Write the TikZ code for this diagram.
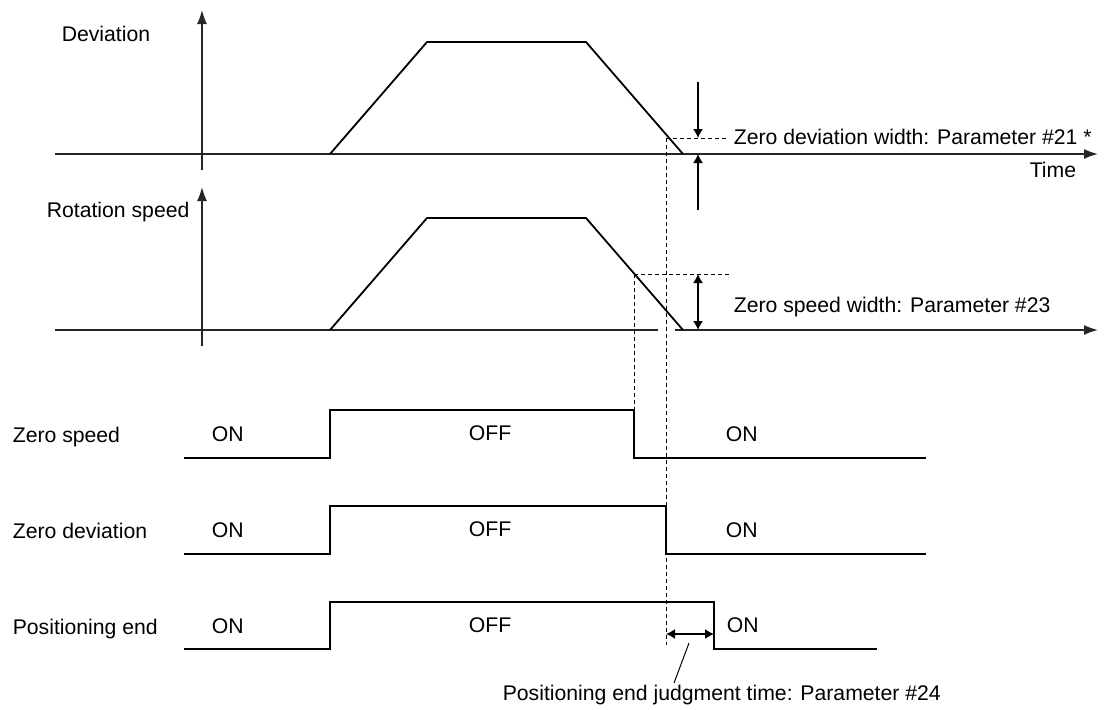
\documentclass[tikz,border=0pt]{standalone}
\usepackage{fontspec}
\setmainfont{Liberation Sans}
\usetikzlibrary{arrows.meta}

\begin{document}
\begin{tikzpicture}[x=0.5pt, y=-0.5pt, >={Latex[length=4.5pt,width=5pt]}, thick,
    font=\fontsize{10.6}{12}\selectfont,
    axis/.style={line width=0.8pt, black!85, -{Latex[length=7pt,width=5pt]}},
    curve/.style={line width=0.9pt},
    sig/.style={line width=0.7pt},
    guide/.style={line width=0.5pt, dash pattern=on 2pt off 1.5pt},
    lbl/.style={anchor=base west, inner sep=0pt}]
    \useasboundingbox (0,0) rectangle (1108,709);

    % Define Coordinates
    \coordinate (devTop) at (202,10);
    \coordinate (devBot) at (202,170);
    \coordinate (devL) at (55,154);
    \coordinate (devR) at (1098,154);
    \coordinate (rotTop) at (202,187);
    \coordinate (rotBot) at (202,346);
    \coordinate (rotL) at (55,330);
    \coordinate (rotR) at (1098,330);
    \coordinate (devMark) at (666,138);
    \coordinate (rotMark) at (634,274);

    % Draw Axes
    \draw[axis] (devBot) -- (devTop);
    \draw[axis] (devL) -- (devR);
    \draw[axis] (rotBot) -- (rotTop);
    \draw[line width=0.8pt, black!85] (rotL) -- (658,330);
    \draw[axis] (675,330) -- (rotR);

    % Draw Deviation and Rotation speed
    \draw[curve] (330,154) -- (427,42) -- (586,42) -- (683,154);
    \draw[curve] (330,330) -- (427,218) -- (586,218) -- (683,330);

    % Dashed guides
    \draw[guide] (devMark) -- (727,138);
    \draw[guide] (devMark) -- (666,645);
    \draw[guide] (rotMark) -- (731,274);
    \draw[guide] (rotMark) -- (634,410);

    % Width arrows
    \draw[->, line width=0.7pt] (698,82) -- (698,138);
    \draw[->, line width=0.7pt] (698,210) -- (698,154);
    \draw[<->, line width=0.7pt] (698,274) -- (698,330);

    % Draw Signals
    \draw[sig] (184,458) -- (330,458) -- (330,410) -- (634,410) -- (634,458) -- (926,458);
    \draw[sig] (184,554) -- (330,554) -- (330,506) -- (666,506) -- (666,554) -- (926,554);
    \draw[sig] (184,649) -- (330,649) -- (330,602) -- (714,602) -- (714,649) -- (877,649);

    % Judgment time
    \draw[<->, line width=0.7pt] (666,634) -- (714,634);
    \draw[line width=0.5pt] (689,643) -- (674,683);

    % Labels
    \node[lbl] (devlbl) at (61,41.5) {Deviation};
    \node[lbl] (rotlbl) at (46,217) {Rotation speed};
    \node[lbl] (timelbl) at (1029,177) {Time};
    \node[lbl] (zdwlbl) at (733,144) {Zero deviation width: Parameter \#21 *};
    \node[lbl] (zswlbl) at (733,312) {Zero speed width: Parameter \#23};
    \node[lbl] (zslbl) at (12,442) {Zero speed};
    \node[lbl] (zdlbl) at (12,538) {Zero deviation};
    \node[lbl] (pelbl) at (12,634) {Positioning end};
    \node[lbl] (pjlbl) at (502,700) {Positioning end judgment time: Parameter \#24};

    % ON / OFF states
    \node[lbl] (zsOn) at (211,441) {ON};
    \node[lbl] (zsOff) at (468,440) {OFF};
    \node[lbl] (zsOn2) at (725,441) {ON};
    \node[lbl] (zdOn) at (211,537) {ON};
    \node[lbl] (zdOff) at (468,536) {OFF};
    \node[lbl] (zdOn2) at (725,537) {ON};
    \node[lbl] (peOn) at (211,633) {ON};
    \node[lbl] (peOff) at (468,632) {OFF};
    \node[lbl] (peOn2) at (726,632) {ON};
\end{tikzpicture}
\end{document}
